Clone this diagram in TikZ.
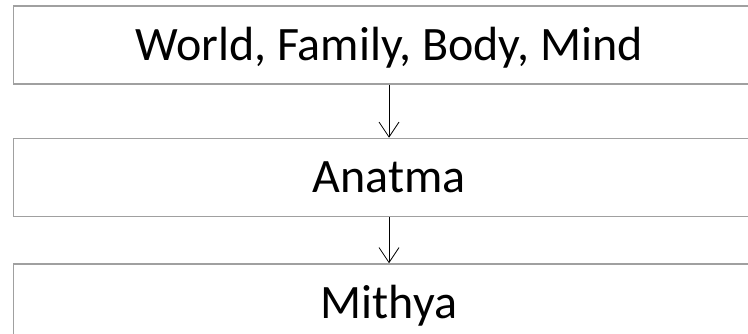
\documentclass[tikz,border=0pt]{standalone}
\usepackage{fontspec}
\setmainfont{Carlito}
\usepackage{xcolor}
\usepackage{tikz}
\usetikzlibrary{arrows.meta, positioning}
\definecolor{boxgray}{RGB}{160, 160, 160}

\begin{document}
\begin{tikzpicture}[x=1pt, y=-1pt,
    stage/.style={draw=boxgray, line width=1.5pt, minimum width=751pt,
                  minimum height=78pt, inner sep=0pt, text height=31pt, text depth=0pt,
                  font=\fontsize{48}{58}\selectfont},
    flow/.style={-{Straight Barb[length=15pt, width=20pt]}, line width=0.8pt}
]
    \useasboundingbox (0,0) rectangle (748,334);
    \node[stage] (world) at (389,45) {World, Family, Body, Mind};
    \node[stage, below=53pt of world] (anatma) {Anatma};
    \node[stage, below=46pt of anatma] (mithya) {Mithya};
    \draw[flow] (world) -- (anatma);
    \draw[flow] (anatma) -- (mithya);
\end{tikzpicture}
\end{document}
